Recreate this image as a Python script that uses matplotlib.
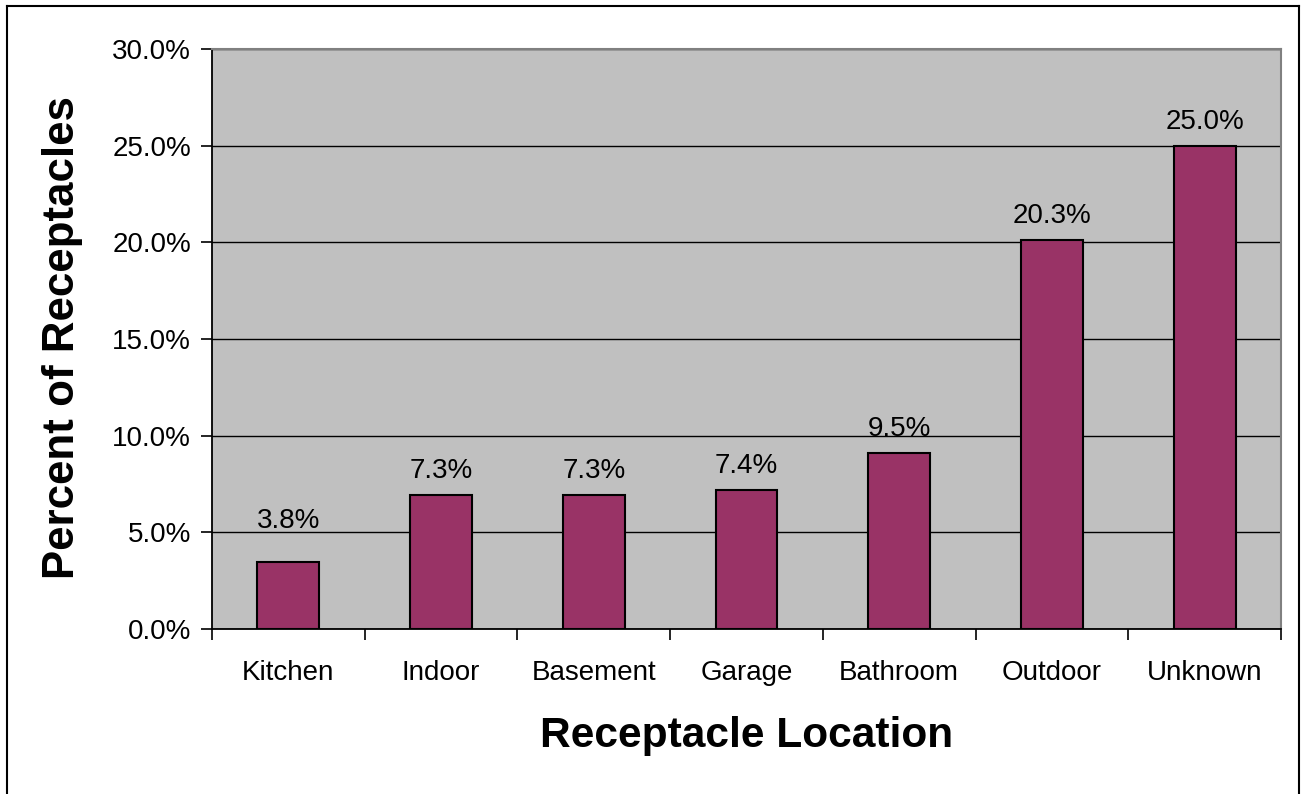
import matplotlib
matplotlib.use("Agg")
import matplotlib.pyplot as plt
from matplotlib.lines import Line2D
import numpy as np

categories = ["Kitchen", "Indoor", "Basement", "Garage", "Bathroom", "Outdoor", "Unknown"]
bar_values = [3.48, 6.92, 6.92, 7.19, 9.11, 20.12, 25.0]
value_labels = ["3.8%", "7.3%", "7.3%", "7.4%", "9.5%", "20.3%", "25.0%"]
y_ticks = [0, 5, 10, 15, 20, 25, 30]
y_tick_labels = ["0.0%", "5.0%", "10.0%", "15.0%", "20.0%", "25.0%", "30.0%"]

# label offsets above bar tops (points); the Kitchen label sits higher in the original
label_offsets = [20, 8, 8, 8, 8, 8, 8]

plt.rcParams['font.family'] = ['Liberation Sans', 'DejaVu Sans']

W, H = 1305, 794
fig = plt.figure(figsize=(W / 100, H / 100), dpi=100)
ax = fig.add_axes([212 / W, 1 - 629 / H, (1281 - 212) / W, (629 - 49) / H])
ax.set_facecolor("#C0C0C0")

x = np.arange(len(categories))
ax.bar(x, bar_values, width=0.405, color="#993366", edgecolor="black", linewidth=1.5, zorder=3)
for xi, v, lab, off in zip(x, bar_values, value_labels, label_offsets):
    ax.annotate(lab, (xi, v), xytext=(0, off), textcoords="offset points",
                ha="center", va="bottom", fontsize=20, color="black", zorder=4)

ax.set_xlim(-0.5, len(categories) - 0.5)
ax.set_ylim(0, 30)
ax.set_yticks(y_ticks)
ax.set_yticklabels(y_tick_labels, fontsize=20)
ax.yaxis.grid(True, color="black", linewidth=1.0, zorder=1)
ax.set_axisbelow(True)

ax.set_xticks(np.arange(len(categories) + 1) - 0.5)
ax.set_xticklabels([])
ax.set_xticks(x, minor=True)
ax.set_xticklabels(categories, minor=True, fontsize=20)
ax.tick_params(axis="x", which="minor", length=0, pad=22)
ax.tick_params(axis="x", which="major", length=8, width=1.2, direction="out")
ax.tick_params(axis="y", length=8, width=1.2, direction="out", pad=7)

for s in ["left", "bottom"]:
    ax.spines[s].set_color("black")
    ax.spines[s].set_linewidth(1.3)
for s in ["top", "right"]:
    ax.spines[s].set_color("#808080")
    ax.spines[s].set_linewidth(1.5)

fig.text(747 / W, 1 - 736 / H, "Receptacle Location", ha="center", va="center",
         fontsize=30.6, fontweight="bold")
fig.text(63 / W, 1 - 338 / H, "Percent of Receptacles", ha="center", va="center",
         fontsize=31.6, fontweight="bold", rotation=90)

# outer chart border (left, top, right)
bx0, bx1, by0 = 6.5 / W, 1298.5 / W, 1 - 6 / H
fig.add_artist(Line2D([bx0, bx0], [0, by0], color="black", linewidth=1.5, transform=fig.transFigure))
fig.add_artist(Line2D([bx0, bx1], [by0, by0], color="black", linewidth=1.5, transform=fig.transFigure))
fig.add_artist(Line2D([bx1, bx1], [0, by0], color="black", linewidth=1.5, transform=fig.transFigure))

fig.savefig("out.png", dpi=100, facecolor="white")
